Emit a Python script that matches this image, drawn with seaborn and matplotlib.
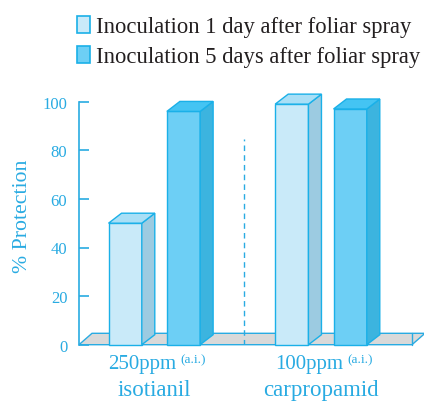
import pandas as pd
import matplotlib.pyplot as plt
from matplotlib.patches import Patch, Polygon
import seaborn as sns

# data
compounds = ['isotianil', 'carpropamid']
doses = ['250ppm', '100ppm']
timings = ['Inoculation 1 day after foliar spray', 'Inoculation 5 days after foliar spray']
protection_1day = [50, 99]
protection_5days = [96, 97]

CYAN = '#29abe2'
EDGE = '#1ab0e8'
front_colors = ['#c9eaf9', '#6dcff5']
side_colors = ['#9ccbe1', '#3cb4df']
top_colors = ['#a9dff6', '#44c4f3']

df = pd.DataFrame({
    'compound': compounds * 2,
    'timing': [timings[0]] * 2 + [timings[1]] * 2,
    'protection': protection_1day + protection_5days,
})

sns.set_style('white')
plt.rcParams['font.family'] = ['Liberation Serif', 'DejaVu Serif']

fig = plt.figure(figsize=(4.24, 4.06), dpi=100)
ax = fig.add_axes([79 / 424, 60.3 / 406, 333 / 424, 243 / 406])

sns.barplot(data=df, x='compound', y='protection', hue='timing',
            order=compounds, hue_order=timings, palette=front_colors,
            width=0.7, gap=0.43, edgecolor=EDGE, linewidth=1.0,
            saturation=1, legend=False, ax=ax, zorder=3)

xmin, xmax = -0.452, 1.546
ax.set_xlim(xmin, xmax)
ax.set_ylim(0, 100)

# pixel -> data conversion for the fake depth
px_x = ax.bbox.width / (xmax - xmin)
px_y = ax.bbox.height / 100
bdx, bdy = 13 / px_x, 10 / px_y
fdx, fdy = 13 / px_x, 11.4 / px_y

# floor
floor = Polygon([(xmin, 0), (xmax, 0), (xmax + fdx, fdy), (xmin + fdx, fdy)],
                closed=True, facecolor='#d9d9d9', edgecolor=CYAN, lw=1.0,
                clip_on=False, zorder=1)
ax.add_patch(floor)
ax.plot([xmax, xmax], [0, fdy], color=CYAN, lw=1.0, clip_on=False, zorder=1)

# divider
ax.plot([0.54, 0.54], [0, 84.6], color=CYAN, lw=1.0, ls=(0, (4, 3)), zorder=2)

# sides and tops of the bars
for i, p in enumerate(list(ax.patches)):
    if not hasattr(p, 'get_width') or p.get_height() <= 0:
        continue
    lvl = i // len(compounds)
    x0 = p.get_x()
    x1 = x0 + p.get_width()
    h = p.get_height()
    side = Polygon([(x1, 0), (x1 + bdx, bdy), (x1 + bdx, h + bdy), (x1, h)],
                   closed=True, facecolor=side_colors[lvl], edgecolor=EDGE,
                   lw=1.0, clip_on=False, zorder=3)
    top = Polygon([(x0, h), (x1, h), (x1 + bdx, h + bdy), (x0 + bdx, h + bdy)],
                  closed=True, facecolor=top_colors[lvl], edgecolor=EDGE,
                  lw=1.0, clip_on=False, zorder=3)
    ax.add_patch(side)
    ax.add_patch(top)
    p.set_clip_on(False)

# axes styling
for s in ['top', 'right', 'bottom']:
    ax.spines[s].set_visible(False)
ax.spines['left'].set_color(CYAN)
ax.spines['left'].set_linewidth(1.2)
ax.set_yticks([0, 20, 40, 60, 80, 100])
ax.tick_params(axis='y', direction='in', length=7, width=1.2, color=CYAN,
               labelcolor=CYAN, labelsize=12, pad=8.4, left=True)
ax.set_ylabel('% Protection', fontsize=15.7, color=CYAN)
ax.yaxis.set_label_coords(-0.141, 0.532)

ax.set_xlabel('')
ax.set_xticks(range(len(compounds)))
ax.set_xticklabels(compounds)
ax.tick_params(axis='x', length=0, labelcolor=CYAN, labelsize=16.5, pad=25)

for i, d in enumerate(doses):
    ax.annotate(d, xy=(i, 0), xycoords=('data', 'axes fraction'),
                xytext=(15.8, -17), textcoords='offset points',
                ha='right', va='baseline', fontsize=15, color=CYAN,
                annotation_clip=False)
    ax.annotate('(a.i.)', xy=(i, 0), xycoords=('data', 'axes fraction'),
                xytext=(19, -12.8), textcoords='offset points',
                ha='left', va='baseline', fontsize=9.6, color=CYAN,
                annotation_clip=False)

handles = [Patch(facecolor=front_colors[k], edgecolor=EDGE, lw=1.2) for k in range(2)]
fig.legend(handles, timings, loc='upper left', bbox_to_anchor=(77 / 424, 1 - 17 / 406),
           frameon=False, fontsize=16.3, handlelength=0.56, handleheight=0.78,
           handletextpad=0.27, labelspacing=0.38, borderpad=0, borderaxespad=0,
           labelcolor='#231f20')

fig.savefig('out.png', dpi=100)
